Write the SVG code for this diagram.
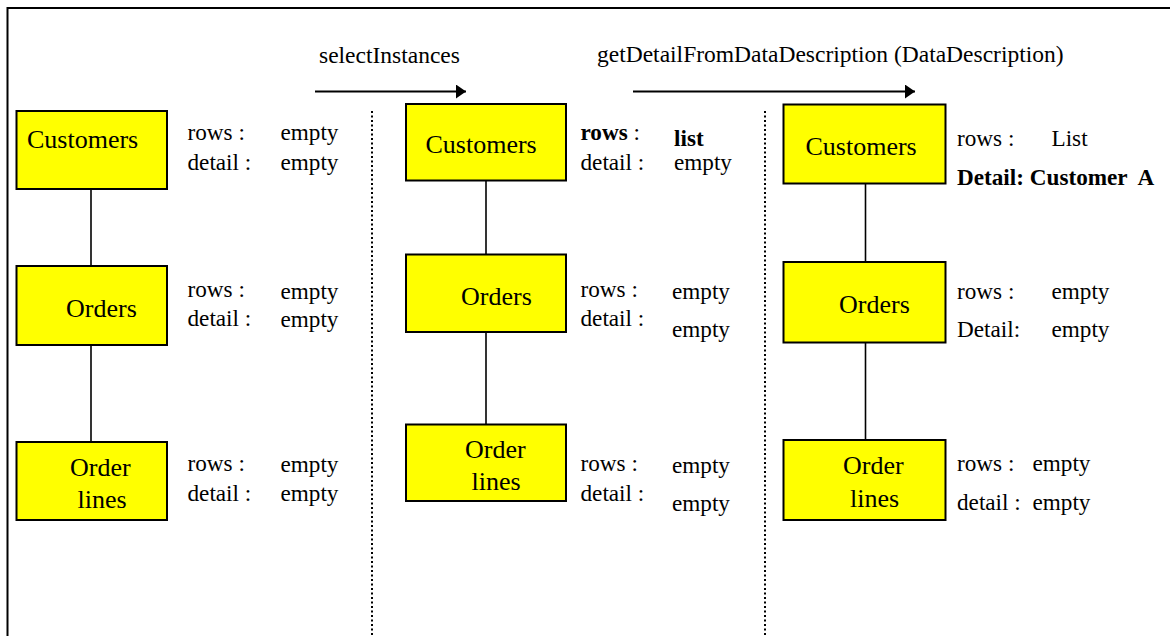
<svg xmlns="http://www.w3.org/2000/svg" width="1170" height="636" viewBox="0 0 1170 636">
  <style>
    .box { fill: #ffff00; stroke: #000; stroke-width: 2; }
    .lbl { font-family: "Liberation Serif", "Times New Roman", serif; font-size: 26px; fill: #000; }
    .txt { font-family: "Liberation Serif", "Times New Roman", serif; font-size: 23.2px; fill: #000; }
    .b { font-weight: bold; }
    .link { stroke: #000; stroke-width: 1.6; fill: none; }
    .sep { stroke: #000; stroke-width: 2; stroke-dasharray: 2 2.5; fill: none; }
    .call { stroke: #000; stroke-width: 1.8; fill: none; marker-end: url(#head); }
    .frame { stroke: #000; stroke-width: 2; fill: none; }
  </style>
  <defs>
    <marker id="head" markerUnits="userSpaceOnUse" markerWidth="10" markerHeight="14" refX="10" refY="7" orient="auto">
      <path d="M0,0 L10,7 L0,14 Z" fill="#000"/>
    </marker>
  </defs>

  <rect width="1170" height="636" fill="#fff"/>

  <!-- open frame: top and left edges -->
  <path class="frame" d="M7.5,640 L7.5,8 L1175,8"/>

  <!-- column separators -->
  <line class="sep" x1="372" y1="111" x2="372" y2="636"/>
  <line class="sep" x1="765" y1="111" x2="765" y2="636"/>

  <!-- method calls between the states -->
  <g id="calls">
    <text class="txt" x="319" y="63" style="font-size:23.5px">selectInstances</text>
    <line class="call" x1="315" y1="91.5" x2="466" y2="91.5"/>
    <text class="txt" x="597" y="62" style="font-size:23.5px">getDetailFromDataDescription (DataDescription)</text>
    <line class="call" x1="633" y1="91.5" x2="915" y2="91.5"/>
  </g>

  <!-- connectors -->
  <g id="connectors">
    <line class="link" x1="91" y1="189" x2="91" y2="266"/>
    <line class="link" x1="91" y1="345" x2="91" y2="442"/>
    <line class="link" x1="486" y1="180" x2="486" y2="254"/>
    <line class="link" x1="486" y1="332" x2="486" y2="424"/>
    <line class="link" x1="865.5" y1="184" x2="865.5" y2="262"/>
    <line class="link" x1="865.5" y1="343" x2="865.5" y2="440"/>
  </g>

  <!-- state 1 -->
  <g id="customers-1">
    <rect class="box" x="16.5" y="111" width="150.5" height="78"/>
    <text class="lbl" x="27" y="148">Customers</text>
    <text class="txt" x="187.5" y="140">rows :</text>
    <text class="txt" x="280.5" y="140">empty</text>
    <text class="txt" x="187.5" y="170">detail :</text>
    <text class="txt" x="280.5" y="170">empty</text>
  </g>
  <g id="orders-1">
    <rect class="box" x="16.5" y="266" width="150.5" height="79"/>
    <text class="lbl" x="66" y="316.5">Orders</text>
    <text class="txt" x="187.5" y="296.5">rows :</text>
    <text class="txt" x="280.5" y="299">empty</text>
    <text class="txt" x="187.5" y="326">detail :</text>
    <text class="txt" x="280.5" y="326.5">empty</text>
  </g>
  <g id="orderlines-1">
    <rect class="box" x="16.5" y="442" width="150.5" height="78"/>
    <text class="lbl" x="70" y="476">Order</text>
    <text class="lbl" x="77.5" y="508">lines</text>
    <text class="txt" x="187.5" y="471">rows :</text>
    <text class="txt" x="280.5" y="472">empty</text>
    <text class="txt" x="187.5" y="500.5">detail :</text>
    <text class="txt" x="280.5" y="501">empty</text>
  </g>

  <!-- state 2 -->
  <g id="customers-2">
    <rect class="box" x="406" y="104" width="160" height="76.5"/>
    <text class="lbl" x="425.5" y="153">Customers</text>
    <text class="txt" x="580.5" y="140"><tspan class="b">rows</tspan> :</text>
    <text class="txt b" x="674" y="145.5">list</text>
    <text class="txt" x="580.5" y="170">detail :</text>
    <text class="txt" x="674" y="170">empty</text>
  </g>
  <g id="orders-2">
    <rect class="box" x="406" y="254.5" width="160" height="77.5"/>
    <text class="lbl" x="461" y="305">Orders</text>
    <text class="txt" x="580.5" y="296.5">rows :</text>
    <text class="txt" x="672" y="299">empty</text>
    <text class="txt" x="580.5" y="326">detail :</text>
    <text class="txt" x="672" y="336.5">empty</text>
  </g>
  <g id="orderlines-2">
    <rect class="box" x="406" y="424.5" width="160" height="76.5"/>
    <text class="lbl" x="465" y="457.5">Order</text>
    <text class="lbl" x="471.5" y="489.5">lines</text>
    <text class="txt" x="580.5" y="471">rows :</text>
    <text class="txt" x="672" y="472.5">empty</text>
    <text class="txt" x="580.5" y="500.5">detail :</text>
    <text class="txt" x="672" y="510.5">empty</text>
  </g>

  <!-- state 3 -->
  <g id="customers-3">
    <rect class="box" x="783.5" y="104.5" width="162" height="79"/>
    <text class="lbl" x="805.5" y="155">Customers</text>
    <text class="txt" x="957" y="146">rows :</text>
    <text class="txt" x="1051.5" y="146">List</text>
    <text class="txt b" x="957" y="185" xml:space="preserve">Detail: Customer  A</text>
  </g>
  <g id="orders-3">
    <rect class="box" x="783.5" y="262" width="162" height="80.5"/>
    <text class="lbl" x="839" y="312.5">Orders</text>
    <text class="txt" x="957" y="299">rows :</text>
    <text class="txt" x="1051.5" y="299">empty</text>
    <text class="txt" x="957" y="337">Detail:</text>
    <text class="txt" x="1051.5" y="337">empty</text>
  </g>
  <g id="orderlines-3">
    <rect class="box" x="783.5" y="440" width="162" height="80"/>
    <text class="lbl" x="843" y="474">Order</text>
    <text class="lbl" x="850" y="507">lines</text>
    <text class="txt" x="957" y="471">rows :</text>
    <text class="txt" x="1032.5" y="471">empty</text>
    <text class="txt" x="957" y="510">detail :</text>
    <text class="txt" x="1032.5" y="510">empty</text>
  </g>
</svg>
